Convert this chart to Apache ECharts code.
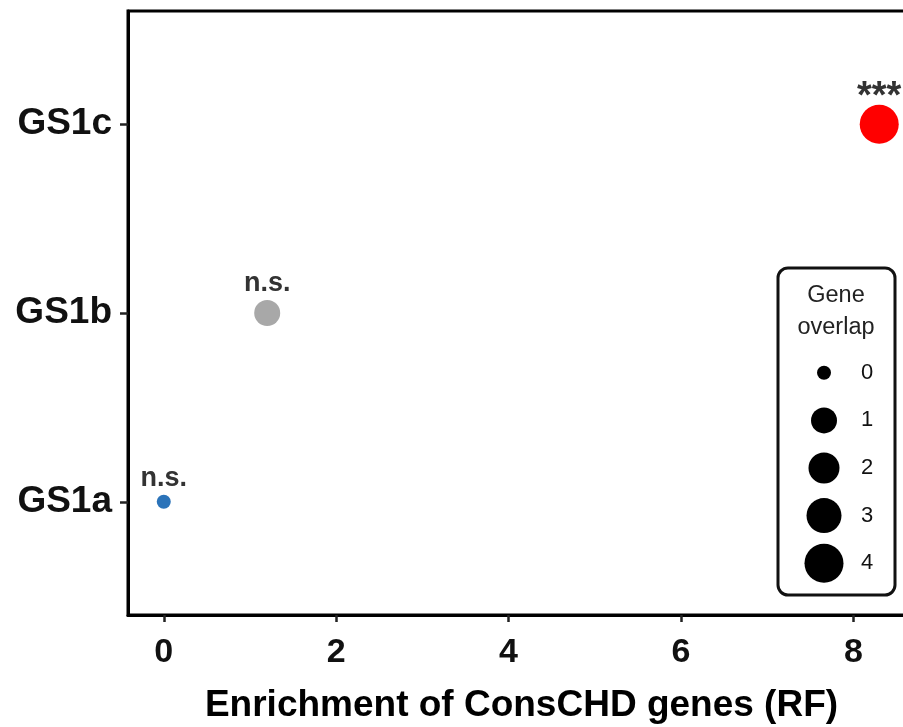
<!DOCTYPE html>
<html>
<head>
<meta charset="utf-8">
<script src="https://cdn.jsdelivr.net/npm/echarts@6/dist/echarts.min.js"></script>
<style>
  html, body { margin: 0; padding: 0; background: #fff; }
  #chart { width: 903px; height: 727px; }
</style>
</head>
<body>
<div id="chart"></div>
<script>
// ---- data ----
const categories = ['GS1a', 'GS1b', 'GS1c'];
const enrichment = [0, 1.2, 8.3];
const geneOverlap = [0, 1, 4];
const significance = ['n.s.', 'n.s.', '***'];
const xTicks = [0, 2, 4, 6, 8];
const legendLevels = [0, 1, 2, 3, 4];
const xAxisTitle = 'Enrichment of ConsCHD genes (RF)';
const legendTitle = 'Gene\noverlap';

// ---- styles ----
const FONT = 'Liberation Sans, Arial, Helvetica, sans-serif';
const pointColors = ['#2B73B9', '#A8A8A8', '#FF0000'];
const sizeByOverlap = [14, 26, 31, 35, 39];
const yPos = categories.map((c, i) => i + 1);

const mainData = enrichment.map((x, i) => ({
  value: [x, yPos[i], geneOverlap[i]],
  symbolSize: sizeByOverlap[geneOverlap[i]],
  itemStyle: { color: pointColors[i], opacity: 1 },
  label: significance[i] === '***'
    ? { fontSize: 38, distance: -12 }
    : { fontSize: 27, distance: 3 }
}));

const legendData = legendLevels.map(v => ({
  value: [0, v],
  symbolSize: sizeByOverlap[v]
}));

const chart = echarts.init(document.getElementById('chart'), null, { renderer: 'canvas' });
chart.setOption({
  animation: false,
  backgroundColor: '#fff',
  grid: [
    { left: 128, right: -12, top: 11, bottom: 112, outerBoundsMode: 'none', containLabel: false,
      show: true, borderColor: '#000', borderWidth: 3, backgroundColor: 'transparent' },
    { left: 804, width: 40, top: 349, height: 238, outerBoundsMode: 'none', containLabel: false }
  ],
  xAxis: [
    {
      gridIndex: 0, type: 'value', min: -0.415, max: 8.715,
      name: xAxisTitle, nameLocation: 'middle', nameGap: 72,
      nameTextStyle: { fontFamily: FONT, fontWeight: 'bold', fontSize: 37, color: '#000' },
      axisLine: { show: true, onZero: false, lineStyle: { color: '#000', width: 3 } },
      axisTick: { show: true, customValues: xTicks, length: 7, lineStyle: { color: '#222', width: 2.5 } },
      axisLabel: { customValues: xTicks, fontFamily: FONT, fontWeight: 'bold', fontSize: 34, color: '#111', margin: 21 },
      splitLine: { show: false }
    },
    { gridIndex: 1, type: 'value', min: -1, max: 1, show: false }
  ],
  yAxis: [
    {
      gridIndex: 0, type: 'value', min: 0.4, max: 3.6,
      axisLine: { show: true, onZero: false, lineStyle: { color: '#000', width: 3 } },
      axisTick: { show: true, customValues: yPos, length: 8, lineStyle: { color: '#222', width: 2.5 } },
      axisLabel: {
        customValues: yPos, fontFamily: FONT, fontWeight: 'bold', fontSize: 37, color: '#111', margin: 16,
        formatter: v => categories[Math.round(v) - 1]
      },
      splitLine: { show: false }
    },
    {
      gridIndex: 1, type: 'value', min: -0.5, max: 4.5, inverse: true, position: 'right', z: 10,
      axisLine: { show: false }, axisTick: { show: false }, splitLine: { show: false },
      axisLabel: { customValues: legendLevels, fontFamily: FONT, fontSize: 22, color: '#111', margin: 17 }
    }
  ],
  graphic: [
    {
      type: 'rect', z: 1,
      shape: { x: 778, y: 268, width: 117, height: 327, r: 10 },
      style: { fill: '#fff', stroke: '#111', lineWidth: 3 }
    },
    {
      type: 'text', z: 2, x: 836, y: 312,
      style: { text: legendTitle, fontFamily: FONT, fontSize: 23.5, fill: '#222', align: 'center', verticalAlign: 'middle', lineHeight: 32 }
    }
  ],
  series: [
    {
      type: 'scatter', xAxisIndex: 0, yAxisIndex: 0, data: mainData,
      label: {
        show: true, position: 'top', fontFamily: FONT, fontWeight: 'bold', color: '#333',
        formatter: p => significance[p.dataIndex]
      }
    },
    {
      type: 'scatter', xAxisIndex: 1, yAxisIndex: 1, z: 5, data: legendData,
      itemStyle: { color: '#000', opacity: 1 }
    }
  ]
});
</script>
</body>
</html>
